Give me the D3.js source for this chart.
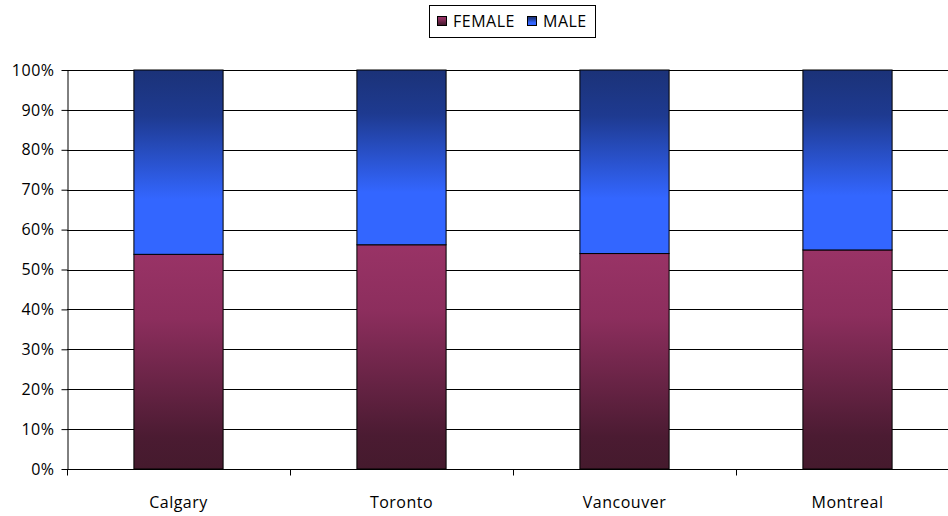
<!DOCTYPE html>
<html>
<head>
<meta charset="utf-8">
<script src="https://cdn.jsdelivr.net/npm/d3@7"></script>
<style>
  body { margin: 0; background: #fff; }
  text { font-family: "Open Sans", "Liberation Sans", sans-serif; font-size: 16px; letter-spacing: 0.5px; fill: #000; }
</style>
</head>
<body>
<svg id="chart" width="948" height="516"></svg>
<script>
const cities = ["Calgary", "Toronto", "Vancouver", "Montreal"];
const female = [53.8, 56.2, 54.0, 54.9];
const male = female.map(v => 100 - v);
const yTicks = [0, 10, 20, 30, 40, 50, 60, 70, 80, 90, 100];

const svg = d3.select("#chart");
const plotLeft = 67, plotTop = 70, plotBottom = 469;

const x = d3.scaleBand().domain(cities).range([plotLeft, plotLeft + 892]).paddingInner(0.6).paddingOuter(0.3);
const xb = d3.scaleBand().domain(cities).range([plotLeft, plotLeft + 892]);
const y = d3.scaleLinear().domain([0, 100]).range([plotBottom, plotTop]);

const defs = svg.append("defs");
const femGrad = defs.append("linearGradient").attr("id", "gFemale").attr("x1", 0).attr("y1", 0).attr("x2", 0).attr("y2", 1);
femGrad.append("stop").attr("offset", "0%").attr("stop-color", "#993366");
femGrad.append("stop").attr("offset", "30%").attr("stop-color", "#8c2e5d");
femGrad.append("stop").attr("offset", "85%").attr("stop-color", "#4b1b32");
femGrad.append("stop").attr("offset", "100%").attr("stop-color", "#451a2d");
const maleGrad = defs.append("linearGradient").attr("id", "gMale").attr("x1", 0).attr("y1", 0).attr("x2", 0).attr("y2", 1);
maleGrad.append("stop").attr("offset", "0%").attr("stop-color", "#1b3278");
maleGrad.append("stop").attr("offset", "25%").attr("stop-color", "#1e3a90");
maleGrad.append("stop").attr("offset", "70%").attr("stop-color", "#3366ff");
maleGrad.append("stop").attr("offset", "100%").attr("stop-color", "#3366ff");

// gridlines
svg.append("g").selectAll("line").data(yTicks).join("line")
  .attr("x1", plotLeft).attr("x2", 948)
  .attr("y1", d => Math.round(y(d)) + 0.5).attr("y2", d => Math.round(y(d)) + 0.5)
  .attr("stroke", "#000").attr("stroke-width", 1);

// y axis
const yAxis = svg.append("g").attr("transform", `translate(${plotLeft + 0.5},0)`)
  .call(d3.axisLeft(y).tickValues(yTicks).tickFormat(d => d + "%").tickSize(6).tickSizeOuter(0));
yAxis.select(".domain").attr("stroke", "#000");
yAxis.selectAll("text").attr("x", -13).style("font-size", "16px").style("letter-spacing", "0.5px")
  .style("font-family", "'Open Sans', 'Liberation Sans', sans-serif");

// x axis
const xAxis = svg.append("g").attr("transform", `translate(0,${Math.round(y(0)) + 0.5})`);
xAxis.append("line").attr("x1", plotLeft).attr("x2", 948).attr("stroke", "#000");
xAxis.selectAll(".tk").data(cities).join("line").attr("class", "tk")
  .attr("x1", d => Math.round(xb(d)) + 0.5).attr("x2", d => Math.round(xb(d)) + 0.5)
  .attr("y1", 0).attr("y2", 6).attr("stroke", "#000");
xAxis.selectAll("text").data(cities).join("text")
  .attr("x", d => x(d) + x.bandwidth() / 2).attr("y", 38)
  .attr("text-anchor", "middle").text(d => d);

// bars
const bars = svg.append("g");
bars.selectAll(".f").data(cities).join("rect").attr("class", "f")
  .attr("x", d => x(d)).attr("width", x.bandwidth())
  .attr("y", (d, i) => y(female[i])).attr("height", (d, i) => y(0) - y(female[i]))
  .attr("fill", "url(#gFemale)").attr("stroke", "#000").attr("stroke-width", 1);
bars.selectAll(".m").data(cities).join("rect").attr("class", "m")
  .attr("x", d => x(d)).attr("width", x.bandwidth())
  .attr("y", (d, i) => y(female[i] + male[i])).attr("height", (d, i) => y(female[i]) - y(female[i] + male[i]))
  .attr("fill", "url(#gMale)").attr("stroke", "#000").attr("stroke-width", 1);

// legend
const lg = svg.append("g");
lg.append("rect").attr("x", 429.5).attr("y", 5.5).attr("width", 166).attr("height", 32)
  .attr("fill", "#fff").attr("stroke", "#000");
const items = [{name: "FEMALE", fill: "url(#gFemale)", x: 437}, {name: "MALE", fill: "url(#gMale)", x: 527}];
items.forEach(it => {
  lg.append("rect").attr("x", it.x + 0.5).attr("y", 16.5).attr("width", 9).attr("height", 9)
    .attr("fill", it.fill).attr("stroke", "#000");
  lg.append("text").attr("x", it.x + 16).attr("y", 27).text(it.name);
});
</script>
</body>
</html>
